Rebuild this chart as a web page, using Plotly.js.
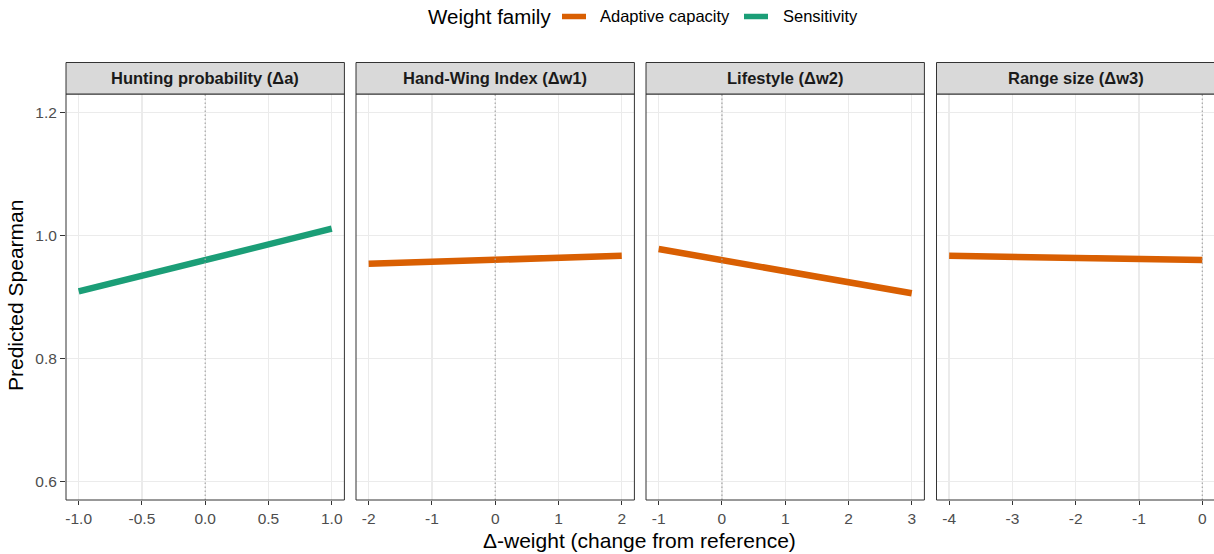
<!DOCTYPE html>
<html>
<head>
<meta charset="utf-8">
<script src="https://cdn.plot.ly/plotly-3.0.1.min.js"></script>
<style>
  html, body { margin: 0; padding: 0; background: #ffffff; }
  #chart { width: 1214px; height: 554px; }
</style>
</head>
<body>
<div id="chart"></div>
<script>
// Facet titles and the weight family each facet belongs to
const panelTitles = ["Hunting probability (Δa)", "Hand-Wing Index (Δw1)", "Lifestyle (Δw2)", "Range size (Δw3)"];
const panelFamily = ["Sensitivity", "Adaptive capacity", "Adaptive capacity", "Adaptive capacity"];

// Δ-weight values and predicted Spearman correlation for each facet
const dA   = [-1, 0, 1];
const rhoA = [0.909, 0.960, 1.011];
const dW1   = [-2, 0, 2];
const rhoW1 = [0.954, 0.960, 0.967];
const dW2   = [-1, 0, 3];
const rhoW2 = [0.978, 0.960, 0.906];
const dW3   = [-4, 0];
const rhoW3 = [0.967, 0.960];

// Tick values per facet
const xTicks = [
  [-1, -0.5, 0, 0.5, 1],
  [-2, -1, 0, 1, 2],
  [-1, 0, 1, 2, 3],
  [-4, -3, -2, -1, 0]
];
const xTickText = [
  ["-1.0", "-0.5", "0.0", "0.5", "1.0"],
  ["-2", "-1", "0", "1", "2"],
  ["-1", "0", "1", "2", "3"],
  ["-4", "-3", "-2", "-1", "0"]
];
const yTicks = [0.6, 0.8, 1.0, 1.2];
const yTickText = ["0.6", "0.8", "1.0", "1.2"];

const familyNames = ["Adaptive capacity", "Sensitivity"];
const familyColors = {"Adaptive capacity": "#D95F02", "Sensitivity": "#1B9E77"};

const xs = [dA, dW1, dW2, dW3];
const ys = [rhoA, rhoW1, rhoW2, rhoW3];

// ---- layout geometry (pixels) ----
const W = 1214, H = 554;
const panelLeft = [66, 356, 646, 936.5];
const panelWidth = 278.4;
const xRanges = [[-1.1, 1.1], [-2.2, 2.2], [-1.2, 3.2], [-4.2, 0.185]];
const plotTop = 94, plotBottom = 500, stripTop = 62.5;
const yRange = [0.57, 1.23];

const px = v => v / W;
const py = v => 1 - v / H;

const FONT = "Liberation Sans, Arial, Helvetica, sans-serif";
const traces = [];
const layout = {
  width: W, height: H,
  margin: {l: 0, r: 0, t: 0, b: 0},
  paper_bgcolor: "#ffffff",
  plot_bgcolor: "#ffffff",
  showlegend: false,
  font: {family: FONT},
  shapes: [],
  annotations: []
};

for (let i = 0; i < 4; i++) {
  const n = i === 0 ? "" : String(i + 1);
  const xa = "x" + n, ya = "y" + n;
  traces.push({
    type: "scatter", mode: "lines",
    x: xs[i], y: ys[i],
    xaxis: xa, yaxis: ya,
    name: panelFamily[i],
    line: {color: familyColors[panelFamily[i]], width: 6.5},
    hoverinfo: "x+y"
  });

  const x0 = panelLeft[i], x1 = Math.min(panelLeft[i] + panelWidth, W);
  layout["xaxis" + n] = {
    domain: [px(x0), px(x1)],
    range: xRanges[i],
    anchor: ya,
    tickvals: xTicks[i], ticktext: xTickText[i],
    ticks: "outside", ticklen: 4, tickwidth: 1, tickcolor: "#333333",
    tickfont: {family: FONT, size: 15.5, color: "#4D4D4D"},
    showgrid: true, gridcolor: "#EBEBEB", gridwidth: 1.4,
    zeroline: false, showline: false, fixedrange: true
  };
  layout["yaxis" + n] = {
    domain: [py(plotBottom), py(plotTop)],
    range: yRange,
    anchor: xa,
    tickvals: yTicks, ticktext: yTickText,
    ticks: i === 0 ? "outside" : "", ticklen: 5, tickwidth: 1, tickcolor: "#333333",
    showticklabels: i === 0,
    tickfont: {family: FONT, size: 15.5, color: "#4D4D4D"},
    showgrid: true, gridcolor: "#EBEBEB", gridwidth: 1.4,
    zeroline: false, showline: false, fixedrange: true
  };

  // reference line at Δ = 0
  layout.shapes.push({
    type: "line", layer: "above",
    xref: xa, yref: "paper",
    x0: 0, x1: 0, y0: py(plotBottom), y1: py(plotTop),
    line: {color: "#A6A6A6", width: 1.2, dash: "1.5px,2.5px"}
  });
  // panel border
  layout.shapes.push({
    type: "rect", layer: "above",
    xref: "paper", yref: "paper",
    x0: px(x0), x1: px(panelLeft[i] + panelWidth), y0: py(plotBottom), y1: py(plotTop),
    line: {color: "#333333", width: 1}, fillcolor: "rgba(0,0,0,0)"
  });
  // facet strip
  layout.shapes.push({
    type: "rect", layer: "above",
    xref: "paper", yref: "paper",
    x0: px(x0), x1: px(panelLeft[i] + panelWidth), y0: py(plotTop), y1: py(stripTop),
    line: {color: "#333333", width: 1}, fillcolor: "#D9D9D9"
  });
  layout.annotations.push({
    xref: "paper", yref: "paper",
    x: px(panelLeft[i] + panelWidth / 2), y: py((plotTop + stripTop) / 2),
    xanchor: "center", yanchor: "middle", showarrow: false,
    text: "<b>" + panelTitles[i] + "</b>",
    font: {family: FONT, size: 16.5, color: "#1A1A1A"}
  });
}

// axis titles
layout.annotations.push({
  xref: "paper", yref: "paper",
  x: px(639.5), y: py(540), xanchor: "center", yanchor: "middle",
  showarrow: false, text: "Δ-weight (change from reference)",
  font: {family: FONT, size: 21, color: "#000000"}
});
layout.annotations.push({
  xref: "paper", yref: "paper",
  x: px(15), y: py(296), xanchor: "center", yanchor: "middle",
  showarrow: false, textangle: -90, text: "Predicted Spearman",
  font: {family: FONT, size: 21, color: "#000000"}
});

// legend: title, then one key + label per weight family
layout.annotations.push({
  xref: "paper", yref: "paper",
  x: px(426), y: py(16.5), xanchor: "left", yanchor: "middle",
  showarrow: false, text: "Weight family",
  font: {family: FONT, size: 20.5, color: "#000000"}
});
const keyX = [562, 744];
const labelX = [598, 781];
familyNames.forEach((name, k) => {
  layout.shapes.push({
    type: "line", xref: "paper", yref: "paper",
    x0: px(keyX[k]), x1: px(keyX[k] + 24), y0: py(16.5), y1: py(16.5),
    line: {color: familyColors[name], width: 5.5}
  });
  layout.annotations.push({
    xref: "paper", yref: "paper",
    x: px(labelX[k]), y: py(16.5), xanchor: "left", yanchor: "middle",
    showarrow: false, text: name,
    font: {family: FONT, size: 16.5, color: "#000000"}
  });
});

Plotly.newPlot("chart", traces, layout, {staticPlot: true, displayModeBar: false});
</script>
</body>
</html>
